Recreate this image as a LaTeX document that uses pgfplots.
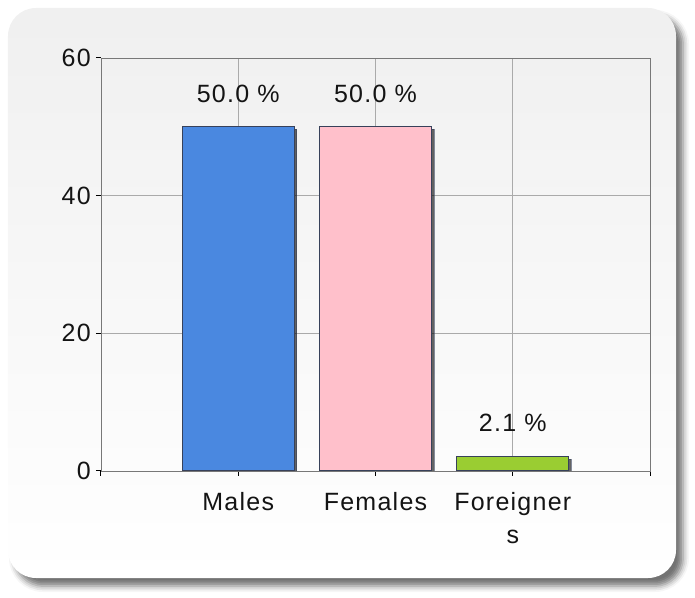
\documentclass[border=0pt]{standalone}
\usepackage{pgfplots}
\pgfplotsset{compat=1.18}
\usepackage{fontspec}
\setmainfont[LetterSpace=5]{Liberation Sans}
\usetikzlibrary{shadows.blur}
\definecolor{mblue}{RGB}{74,136,224}
\definecolor{fpink}{RGB}{255,192,203}
\definecolor{fgreen}{RGB}{154,205,50}
\definecolor{edge}{RGB}{55,65,90}
\definecolor{txt}{RGB}{20,20,20}
\definecolor{gridc}{RGB}{170,170,170}
\definecolor{axc}{RGB}{120,120,120}
\begin{document}
\begin{tikzpicture}[x=1bp,y=1bp]
\path[use as bounding box] (-101,-127) rectangle (594,471);
\shade[top color=black!6,bottom color=white,rounded corners=28bp,
  blur shadow={shadow xshift=7bp,shadow yshift=-8bp,shadow blur radius=6bp,shadow opacity=55}]
  (-93,-107) rectangle (575,463);
\begin{axis}[
  at={(0,0)}, anchor=south west,
  scale only axis, width=549bp, height=413bp,
  xmin=0, xmax=4, ymin=0, ymax=60,
  xtick={0,1,2,3,4},
  xticklabels={,Males,Females,Foreigner\\s,},
  ytick={0,20,40,60},
  grid=major,
  major grid style={gridc, line width=0.6bp},
  axis line style={axc, line width=0.8bp},
  tick style={black, line width=1bp},
  tick align=outside,
  major tick length=5bp,
  tick pos=left,
  font=\fontsize{25bp}{33bp}\selectfont\color{txt},
  /pgf/number format/assume math mode=true,
  xticklabel style={align=center, inner sep=0pt, yshift=-16bp},
  yticklabel style={inner sep=0pt, xshift=-5bp},
  ybar, bar width=112bp, bar shift=0pt,
  nodes near coords={\pgfmathprintnumber[fixed,fixed zerofill,precision=1]{\pgfplotspointmeta}~\%},
  every node near coord/.append style={anchor=south, inner sep=0pt, yshift=24bp, font=\fontsize{25bp}{29bp}\selectfont\color{txt}},
]
\addplot[fill=mblue, draw=edge, line width=1bp,
  drop shadow={shadow xshift=2.5bp,shadow yshift=-2.5bp,fill=black,opacity=0.6}]
  coordinates {(1,50.0)};
\addplot[fill=fpink, draw=edge, line width=1bp,
  drop shadow={shadow xshift=2.5bp,shadow yshift=-2.5bp,fill=black,opacity=0.6}]
  coordinates {(2,50.0)};
\addplot[fill=fgreen, draw=edge, line width=1bp,
  drop shadow={shadow xshift=2.5bp,shadow yshift=-2.5bp,fill=black,opacity=0.6}]
  coordinates {(3,2.1)};
\end{axis}
\end{tikzpicture}
\end{document}
